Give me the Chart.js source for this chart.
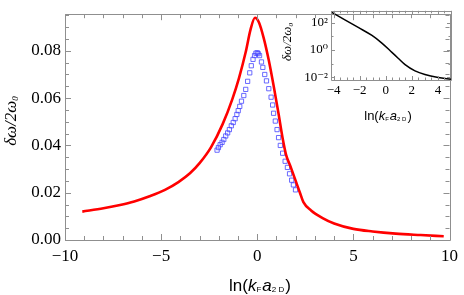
<!DOCTYPE html>
<html>
<head>
<meta charset="utf-8">
<script src="https://cdn.jsdelivr.net/npm/chart.js@4.4.1/dist/chart.umd.min.js"></script>
<style>
  html, body { margin: 0; padding: 0; background: #fff; }
  #wrap { position: relative; width: 464px; height: 295px; }
  #main { position: absolute; left: 0; top: 0; }
  #inset { position: absolute; left: 280px; top: 0; }
</style>
</head>
<body>
<div id="wrap">
  <canvas id="main" width="464" height="295"></canvas>
  <canvas id="inset" width="184" height="125"></canvas>
</div>
<script>
// main panel: theory curve (red) and simulation points (blue squares)
const theoryX = [-9.1, -8.0, -7.2, -6.4, -5.6, -4.8, -4.1, -3.5, -3.0, -2.4, -1.8, -1.3, -0.95, -0.6, -0.35, -0.12,
                 0.09, 0.34, 0.6, 0.85, 1.11, 1.32, 1.5, 1.71, 2.0, 2.22, 2.4, 2.8, 3.4, 4.0, 5.0, 6.0, 7.2, 8.5, 9.7];
const theoryY = [0.0120, 0.0134, 0.0147, 0.0163, 0.0185, 0.0212, 0.0245, 0.0282, 0.0325, 0.0393, 0.0490, 0.0595, 0.0685, 0.0795, 0.0890, 0.0940,
                 0.0920, 0.0853, 0.0760, 0.0653, 0.0533, 0.0430, 0.0360, 0.0315, 0.0250, 0.0200, 0.0160, 0.0125, 0.0093, 0.0070, 0.0047, 0.0036, 0.0027, 0.0021, 0.0016];

const simX = [-2.09, -2.02, -1.93, -1.83, -1.74, -1.64, -1.54, -1.45, -1.35, -1.25, -1.15, -1.06, -0.99, -0.91, -0.82, -0.70,
              -0.60, -0.50, -0.39, -0.31, -0.22, -0.14, -0.07, 0.00, 0.05, 0.12, 0.22, 0.29, 0.39, 0.48, 0.60, 0.72,
              0.80, 0.85, 0.94, 1.03, 1.11, 1.20, 1.32, 1.45, 1.57, 1.68, 1.79, 1.88, 1.99];
const simY = [0.0380, 0.0391, 0.0403, 0.0413, 0.0425, 0.0440, 0.0453, 0.0467, 0.0483, 0.0497, 0.0513, 0.0531, 0.0547, 0.0565, 0.0587, 0.0611,
              0.0637, 0.0671, 0.0707, 0.0737, 0.0764, 0.0780, 0.0790, 0.0792, 0.0788, 0.0780, 0.0753, 0.0730, 0.0700, 0.0673, 0.0640, 0.0604,
              0.0571, 0.0536, 0.0503, 0.0467, 0.0433, 0.0400, 0.0367, 0.0333, 0.0307, 0.0280, 0.0253, 0.0233, 0.0212];

const mainXTicks = [-10, -5, 0, 5, 10];
const mainYTicks = [0, 0.02, 0.04, 0.06, 0.08];

// inset: log scale curve
const insetX = [-4.2, -3.1, -2.08, -1.06, -0.3, 0.47, 0.97, 1.48, 2.24, 3.0, 4.02, 5.0];
const insetY = [620, 158, 43.6, 11.7, 3.24, 0.676, 0.24, 0.085, 0.0295, 0.0158, 0.0095, 0.0071];
const insetXTicks = [-4, -2, 0, 2, 4];
const insetYTicks = [0.01, 1, 100];
const insetYLabels = ['10⁻²', '10⁰', '10²'];

const toPts = (xs, ys) => xs.map((x, i) => ({ x: x, y: ys[i] }));
const minus = v => (v < 0 ? '\u2212' + Math.abs(v) : String(v));

function range(a, b, step) {
  const out = [];
  for (let v = a; v <= b + 1e-9; v += step) out.push(+v.toFixed(6));
  return out;
}

function drawRich(ctx, segs, cx, cy, rot) {
  ctx.save();
  ctx.translate(cx, cy);
  if (rot) ctx.rotate(-Math.PI / 2);
  ctx.textBaseline = 'middle';
  ctx.fillStyle = '#000';
  let w = 0;
  segs.forEach(s => { ctx.font = s.f; w += ctx.measureText(s.t).width + (s.gap || 0); });
  let xx = -w / 2;
  segs.forEach(s => {
    ctx.font = s.f;
    ctx.fillText(s.t, xx, s.dy || 0);
    xx += ctx.measureText(s.t).width + (s.gap || 0);
  });
  ctx.restore();
}

// Mathematica-like frame with ticks pointing inward on all four sides
const frameTicks = {
  id: 'frameTicks',
  afterDatasetsDraw(chart, args, o) {
    const { ctx, chartArea: a } = chart;
    const x = chart.scales.x, y = chart.scales.y;
    ctx.save();
    ctx.strokeStyle = '#8f8f8f';
    ctx.lineWidth = 1;
    ctx.beginPath();
    ctx.rect(Math.round(a.left) + 0.5, Math.round(a.top) + 0.5, Math.round(a.right - a.left), Math.round(a.bottom - a.top));
    const xt = (v, len) => {
      const p = Math.round(x.getPixelForValue(v)) + 0.5;
      ctx.moveTo(p, a.bottom); ctx.lineTo(p, a.bottom - len);
      ctx.moveTo(p, a.top); ctx.lineTo(p, a.top + len);
    };
    const yt = (v, len) => {
      const p = Math.round(y.getPixelForValue(v)) + 0.5;
      ctx.moveTo(a.left, p); ctx.lineTo(a.left + len, p);
      ctx.moveTo(a.right, p); ctx.lineTo(a.right - len, p);
    };
    o.xMajor.forEach(v => xt(v, o.major));
    o.xMinor.forEach(v => xt(v, o.minor));
    o.yMajor.forEach(v => yt(v, o.major));
    o.yMinor.forEach(v => yt(v, o.minor));
    ctx.stroke();
    ctx.restore();
    if (o.titles) o.titles(ctx);
  }
};

const serif = '"Liberation Serif", "DejaVu Serif", serif';
const sans = '"Liberation Sans", Arial, sans-serif';

new Chart(document.getElementById('main'), {
  type: 'scatter',
  data: {
    datasets: [
      {
        data: toPts(theoryX, theoryY),
        showLine: true,
        borderColor: 'rgb(255,0,0)',
        borderWidth: 2.6,
        pointRadius: 0,
        cubicInterpolationMode: 'monotone',
        fill: false
      },
      {
        data: toPts(simX, simY),
        pointStyle: 'rect',
        pointRadius: 3,
        backgroundColor: 'rgba(0,0,0,0)',
        borderColor: 'rgba(70,70,255,0.8)',
        borderWidth: 1
      }
    ]
  },
  options: {
    responsive: false,
    animation: false,
    layout: { autoPadding: false, padding: { left: 0, right: 9, top: 2, bottom: 0 } },
    plugins: {
      legend: { display: false },
      tooltip: { enabled: false },
      frameTicks: {
        major: 6, minor: 4,
        xMajor: mainXTicks, xMinor: range(-10, 10, 1).filter(v => v % 5 !== 0),
        yMajor: mainYTicks, yMinor: range(0.005, 0.095, 0.005).filter(v => Math.round(v * 1000) % 20 !== 0),
        titles: ctx => {
          drawRich(ctx, [
            { t: 'ln(', f: '17px ' + sans },
            { t: 'k', f: 'italic 17px ' + sans },
            { t: 'F', f: '8px ' + sans, dy: 4, gap: 1 },
            { t: 'a', f: 'italic 17px ' + sans },
            { t: '2 D', f: '8px ' + sans, dy: 4, gap: 1 },
            { t: ')', f: '17px ' + sans }
          ], 260, 286, false);
          drawRich(ctx, [
            { t: 'δω/2ω', f: 'italic 17px ' + serif },
            { t: '0', f: 'italic 9px ' + serif, dy: 4 }
          ], 12, 121, true);
        }
      }
    },
    scales: {
      x: {
        type: 'linear', min: -10, max: 10,
        afterBuildTicks: s => { s.ticks = mainXTicks.map(v => ({ value: v })); },
        afterFit: s => { s.height = 55; },
        grid: { display: false, drawTicks: false, tickLength: 0 },
        border: { display: false },
        ticks: { padding: 6, maxRotation: 0, color: '#000', font: { family: serif, size: 17 }, callback: v => minus(v) }
      },
      y: {
        type: 'linear', min: 0, max: 0.0955,
        afterBuildTicks: s => { s.ticks = mainYTicks.map(v => ({ value: v })); },
        afterFit: s => { s.width = 65; },
        grid: { display: false, drawTicks: false, tickLength: 0 },
        border: { display: false },
        ticks: { padding: 4, color: '#000', font: { family: serif, size: 17 }, callback: v => v.toFixed(2) }
      }
    }
  },
  plugins: [frameTicks]
});

new Chart(document.getElementById('inset'), {
  type: 'scatter',
  data: {
    datasets: [{
      data: toPts(insetX, insetY),
      showLine: true,
      borderColor: '#000',
      borderWidth: 1.5,
      pointRadius: 0,
      cubicInterpolationMode: 'monotone'
    }]
  },
  options: {
    responsive: false,
    animation: false,
    layout: { autoPadding: false, padding: { left: 0, right: 13, top: 5, bottom: 0 } },
    plugins: {
      legend: { display: false },
      tooltip: { enabled: false },
      frameTicks: {
        major: 4, minor: 2.5,
        xMajor: insetXTicks, xMinor: range(-4, 5, 0.5).filter(v => v % 2 !== 0),
        yMajor: insetYTicks, yMinor: [0.1, 10],
        titles: ctx => {
          drawRich(ctx, [
            { t: 'ln(', f: '13px ' + sans },
            { t: 'k', f: 'italic 13px ' + sans },
            { t: 'F', f: '6px ' + sans, dy: 3, gap: 1 },
            { t: 'a', f: 'italic 13px ' + sans },
            { t: '2 D', f: '6px ' + sans, dy: 3, gap: 1 },
            { t: ')', f: '13px ' + sans }
          ], 108, 116, false);
          drawRich(ctx, [
            { t: 'δω/2ω', f: 'italic 13px ' + serif },
            { t: '0', f: 'italic 7px ' + serif, dy: 3 }
          ], 8, 42, true);
        }
      }
    },
    scales: {
      x: {
        type: 'linear', min: -4.2, max: 5.0,
        afterBuildTicks: s => { s.ticks = insetXTicks.map(v => ({ value: v })); },
        afterFit: s => { s.height = 45; },
        grid: { display: false, drawTicks: false, tickLength: 0 },
        border: { display: false },
        ticks: { padding: 3, maxRotation: 0, color: '#000', font: { family: serif, size: 13 }, callback: v => minus(v) }
      },
      y: {
        type: 'logarithmic', min: 0.0063, max: 760,
        afterBuildTicks: s => { s.ticks = insetYTicks.map(v => ({ value: v })); },
        afterFit: s => { s.width = 51; },
        grid: { display: false, drawTicks: false, tickLength: 0 },
        border: { display: false },
        ticks: { padding: 3, color: '#000', font: { family: serif, size: 13 }, callback: (v, i) => insetYLabels[i] }
      }
    }
  },
  plugins: [frameTicks]
});
</script>
</body>
</html>
